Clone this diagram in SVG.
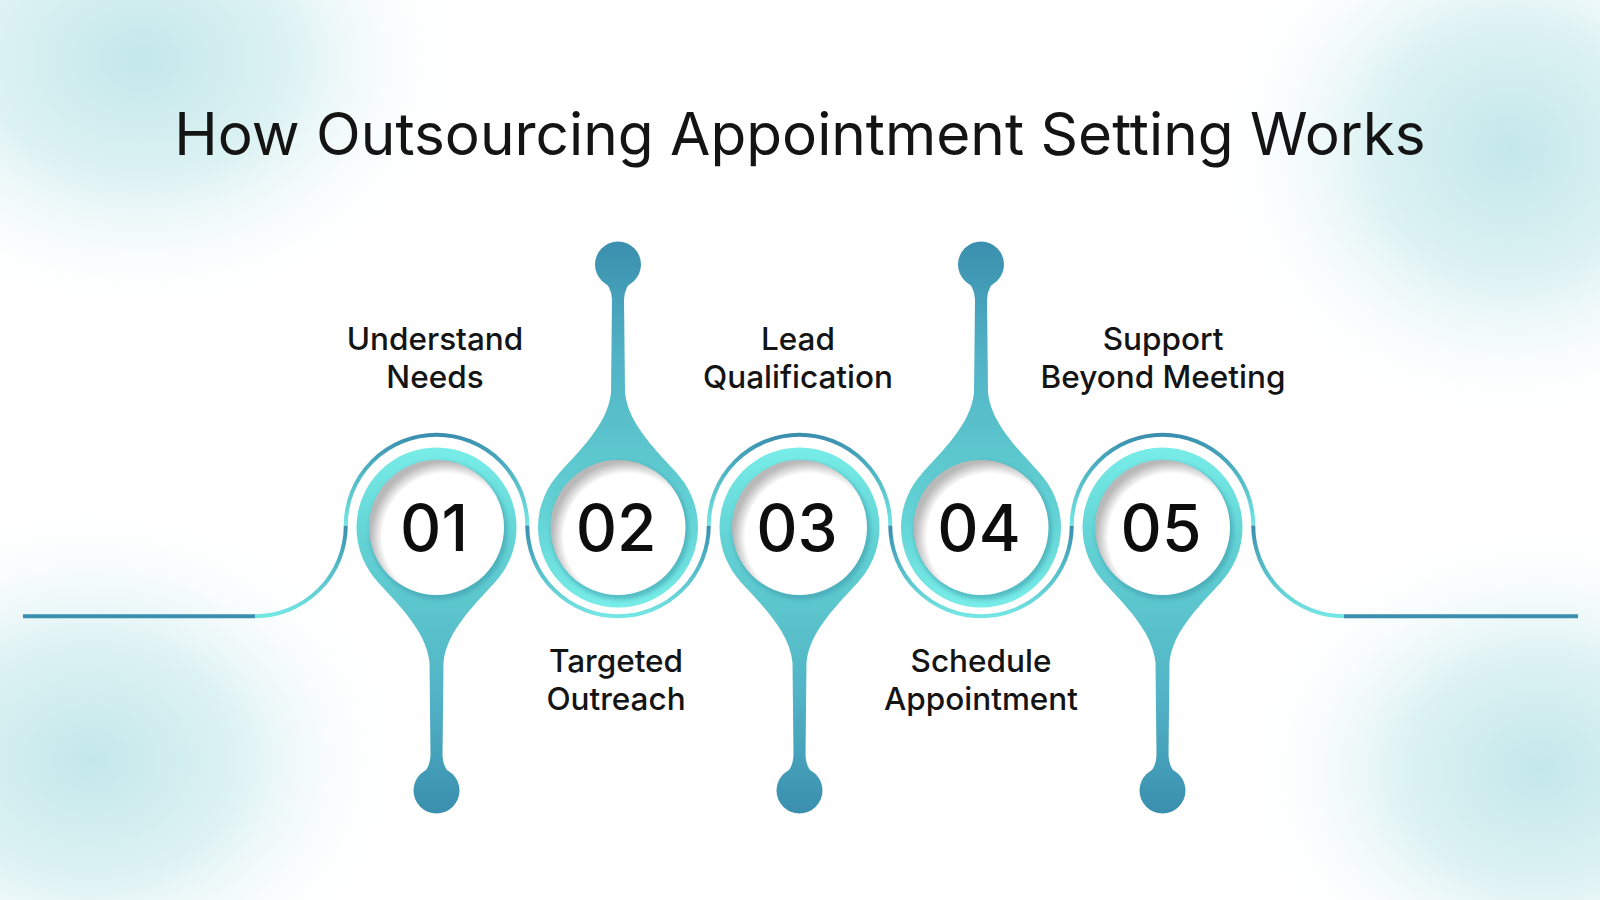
<svg xmlns="http://www.w3.org/2000/svg" xmlns:xlink="http://www.w3.org/1999/xlink" width="1600" height="900" viewBox="0 0 1600 900">
<defs>
  <radialGradient id="bgBlob" cx="0.5" cy="0.5" r="0.5">
    <stop offset="0" stop-color="#bfe6e9" stop-opacity="0.95"/>
    <stop offset="0.45" stop-color="#cdecee" stop-opacity="0.7"/>
    <stop offset="1" stop-color="#ffffff" stop-opacity="0"/>
  </radialGradient>
  <linearGradient id="gPin" gradientUnits="userSpaceOnUse" x1="0" y1="-80" x2="0" y2="286">
    <stop offset="0" stop-color="#78ede8"/>
    <stop offset="0.25" stop-color="#63d3d5"/>
    <stop offset="0.45" stop-color="#5bc4cc"/>
    <stop offset="0.68" stop-color="#52b3c6"/>
    <stop offset="1" stop-color="#3a8fae"/>
  </linearGradient>
  <radialGradient id="gInner" cx="0.57" cy="0.57" r="0.56">
    <stop offset="0" stop-color="#ffffff"/>
    <stop offset="0.84" stop-color="#ffffff"/>
    <stop offset="0.94" stop-color="#d2d2d2"/>
    <stop offset="1" stop-color="#b9b9b9"/>
  </radialGradient>
  <linearGradient id="gTop" gradientUnits="userSpaceOnUse" x1="0" y1="435" x2="0" y2="525">
    <stop offset="0" stop-color="#3a8fae"/>
    <stop offset="0.45" stop-color="#52b8c6"/>
    <stop offset="1" stop-color="#74e6e3"/>
  </linearGradient>
  <linearGradient id="gBot" gradientUnits="userSpaceOnUse" x1="0" y1="526" x2="0" y2="616">
    <stop offset="0" stop-color="#3a8fae"/>
    <stop offset="0.5" stop-color="#56bfca"/>
    <stop offset="1" stop-color="#74e6e3"/>
  </linearGradient>
  <filter id="soft" x="-20%" y="-20%" width="140%" height="140%">
    <feGaussianBlur stdDeviation="2"/>
  </filter>
  <g id="pinDown">
    <circle r="80" fill="url(#gPin)"/>
    <path d="M-60,53 C-40,75.5 -10,103 -7,135 L-6,228 Q-7,243 -16,247 L16,247 Q7,243 6,228 L7,135 C10,103 40,75.5 60,53 Z" fill="url(#gPin)"/>
    <circle cy="263" r="23" fill="url(#gPin)"/>
  </g>
  <g id="face">
    <circle cx="2" cy="3" r="69" fill="#3f9fae" opacity="0.6" filter="url(#soft)"/>
    <circle r="67.5" fill="url(#gInner)"/>
  </g>
</defs>
<style>
  .num { font-family: Inter, "Noto Sans", "Liberation Sans", sans-serif; font-size: 64px; font-weight: 500; fill: #0d0d0d; text-anchor: middle; }
  .lbl { font-family: Inter, "Noto Sans", "Liberation Sans", sans-serif; font-size: 31.5px; font-weight: 500; fill: #141414; text-anchor: middle; }
  .title { font-family: Inter, "Noto Sans", "Liberation Sans", sans-serif; font-size: 58.5px; font-weight: 400; fill: #141414; text-anchor: middle; }
  .wire { fill: none; stroke-width: 4; }
  .dark { stroke: #3b8fae; }
  .light { stroke: #74e6e3; }
</style>

<rect width="1600" height="900" fill="#ffffff"/>
<g id="background">
  <ellipse cx="140" cy="60" rx="330" ry="260" fill="url(#bgBlob)"/>
  <ellipse cx="1510" cy="150" rx="300" ry="280" fill="url(#bgBlob)"/>
  <ellipse cx="90" cy="760" rx="320" ry="260" fill="url(#bgBlob)"/>
  <ellipse cx="1540" cy="770" rx="300" ry="250" fill="url(#bgBlob)"/>
</g>

<text class="title" x="800" y="155">How Outsourcing Appointment Setting Works</text>

<g id="connectors">
  <line class="wire dark" x1="23" y1="616.25" x2="255" y2="616.25"/>
  <path class="wire" stroke="url(#gBot)" d="M255,616.25 A90.75,90.75 0 0 0 345.75,525.5"/>
  <path class="wire" stroke="url(#gTop)" d="M345.75,525.5 A90.75,90.75 0 0 1 527.25,525.5"/>
  <path class="wire" stroke="url(#gBot)" d="M527.25,525.5 A90.75,90.75 0 0 0 708.75,525.5"/>
  <path class="wire" stroke="url(#gTop)" d="M708.75,525.5 A90.75,90.75 0 0 1 890.25,525.5"/>
  <path class="wire" stroke="url(#gBot)" d="M890.25,525.5 A90.75,90.75 0 0 0 1071.75,525.5"/>
  <path class="wire" stroke="url(#gTop)" d="M1071.75,525.5 A90.75,90.75 0 0 1 1253.25,525.5"/>
  <path class="wire" stroke="url(#gBot)" d="M1253.25,525.5 A90.75,90.75 0 0 0 1344,616.25"/>
  <line class="wire dark" x1="1344" y1="616.25" x2="1578" y2="616.25"/>
</g>

<g id="step1">
  <use xlink:href="#pinDown" transform="translate(436.5,527.5)"/>
  <use xlink:href="#face" transform="translate(436.5,527.5)"/>
  <text class="num" x="434" y="551">01</text>
  <text class="lbl" x="435" y="350">Understand</text>
  <text class="lbl" x="435" y="388">Needs</text>
</g>
<g id="step2">
  <use xlink:href="#pinDown" transform="translate(618,527.5) scale(1,-1)"/>
  <use xlink:href="#face" transform="translate(618,527.5)"/>
  <text class="num" x="616" y="551">02</text>
  <text class="lbl" x="616" y="672">Targeted</text>
  <text class="lbl" x="616" y="710">Outreach</text>
</g>
<g id="step3">
  <use xlink:href="#pinDown" transform="translate(799.5,527.5)"/>
  <use xlink:href="#face" transform="translate(799.5,527.5)"/>
  <text class="num" x="797" y="551">03</text>
  <text class="lbl" x="798" y="350">Lead</text>
  <text class="lbl" x="798" y="388">Qualification</text>
</g>
<g id="step4">
  <use xlink:href="#pinDown" transform="translate(981,527.5) scale(1,-1)"/>
  <use xlink:href="#face" transform="translate(981,527.5)"/>
  <text class="num" x="979" y="551">04</text>
  <text class="lbl" x="981" y="672">Schedule</text>
  <text class="lbl" x="981" y="710">Appointment</text>
</g>
<g id="step5">
  <use xlink:href="#pinDown" transform="translate(1162.5,527.5)"/>
  <use xlink:href="#face" transform="translate(1162.5,527.5)"/>
  <text class="num" x="1161" y="551">05</text>
  <text class="lbl" x="1163" y="350">Support</text>
  <text class="lbl" x="1163" y="388">Beyond Meeting</text>
</g>
</svg>
